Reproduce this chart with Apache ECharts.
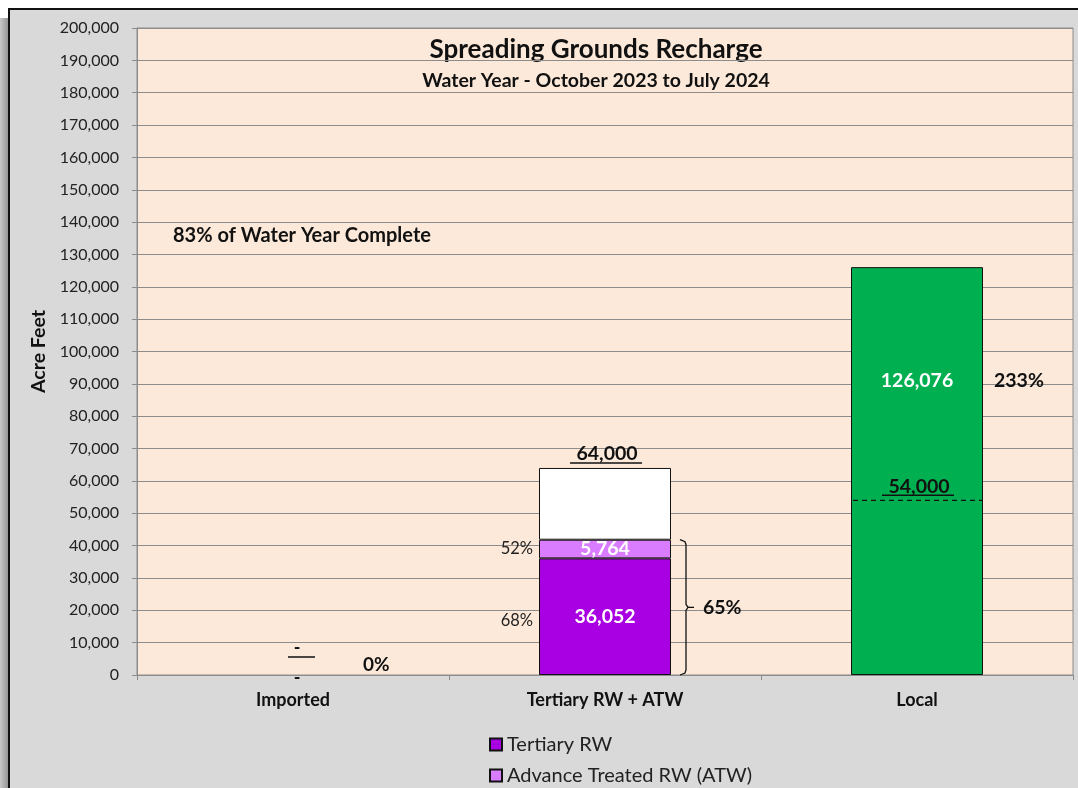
<!DOCTYPE html>
<html>
<head>
    <meta charset="utf-8">
    <title>Spreading Grounds Recharge</title>
    <script src="https://cdn.jsdelivr.net/npm/echarts@6/dist/echarts.min.js"></script>
    <style>
        body { margin: 0; background: #fff; overflow: hidden; }
        #shadow {
            position: absolute; left: 0; top: 18px; width: 10px; height: 800px;
            background: linear-gradient(to right, #c8c8c8, #8a8a8a);
        }
        #frame {
            position: absolute; left: 8px; top: 8px; width: 1100px; height: 820px;
            box-sizing: border-box; background: #d9d9d9; border: 2px solid #111;
        }
        #chart { position: absolute; left: 0; top: 0; width: 1078px; height: 788px; }
    </style>
</head>
<body>
    <div id="shadow"></div>
    <div id="frame"></div>
    <div id="chart"></div>
    <script>
        // data
        const categories = ['Imported', 'Tertiary RW + ATW', 'Local'];
        const tertiaryRW = [null, 36052, null];
        const advanceTreated = [null, 5764, null];
        const localWater = [null, null, 126076];
        const targets = [0, 64000, 54000];
        const tertiaryTargets = [null, 53000, null];
        const atwTargets = [null, 11000, null];
        const yearComplete = '83% of Water Year Complete';

        const FONT = 'Lato';
        const BAR_W = 132;

        function fmt(v) {
            return String(Math.round(v)).replace(/\B(?=(\d{3})+(?!\d))/g, ',');
        }

        const totals = categories.map((c, i) =>
            (tertiaryRW[i] || 0) + (advanceTreated[i] || 0) + (localWater[i] || 0));
        // white part of the bar up to the target
        const remaining = categories.map((c, i) =>
            (advanceTreated[i] && targets[i] > totals[i]) ? targets[i] - totals[i] : null);

        const annoData = categories.map((c, i) => [
            i, totals[i], targets[i],
            tertiaryRW[i] || 0, tertiaryTargets[i] || 0,
            advanceTreated[i] || 0, atwTargets[i] || 0
        ]);

        function renderNotes(params, api) {
            const i = api.value(0);
            const total = api.value(1);
            const target = api.value(2);
            const tert = api.value(3), tertT = api.value(4);
            const atw = api.value(5), atwT = api.value(6);
            const cx = api.coord([i, 0])[0];
            const y0 = api.coord([i, 0])[1];
            const yTop = api.coord([i, total])[1];
            const yGoal = api.coord([i, target])[1];
            const half = BAR_W / 2;
            const kids = [];
            const bold = (size) => 'bold ' + size + 'px ' + FONT;

            // target label, underlined
            if (target) {
                kids.push({ type: 'text', style: { x: cx + 2, y: yGoal - 14, text: fmt(target), font: bold(19.5), fill: '#111', align: 'center', verticalAlign: 'middle' } });
                kids.push({ type: 'line', shape: { x1: cx - 35, y1: yGoal - 5, x2: cx + 37, y2: yGoal - 5 }, style: { stroke: '#111', lineWidth: 1.5 } });
            } else {
                kids.push({ type: 'text', style: { x: cx + 4, y: yGoal - 27, text: '-', font: bold(18), fill: '#111', align: 'center', verticalAlign: 'middle' } });
                kids.push({ type: 'line', shape: { x1: cx - 5, y1: yGoal - 18, x2: cx + 22, y2: yGoal - 18 }, style: { stroke: '#111', lineWidth: 1.5 } });
            }

            const pct = target ? Math.round(total / target * 100) + '%' : '0%';
            if (total === 0) {
                kids.push({ type: 'text', style: { x: cx + 4, y: y0 + 3, text: '-', font: bold(18), fill: '#111', align: 'center', verticalAlign: 'middle' } });
                kids.push({ type: 'text', style: { x: cx + half + 4, y: y0 - 10, text: pct, font: bold(19), fill: '#111', align: 'left', verticalAlign: 'middle' } });
            } else if (total > target) {
                kids.push({ type: 'line', shape: { x1: cx - half + 2, y1: yGoal, x2: cx + half - 1, y2: yGoal }, style: { stroke: '#111', lineWidth: 1.2, lineDash: [5, 4] } });
                const ym = (yGoal + yTop) / 2 - 3;
                kids.push({ type: 'text', style: { x: cx, y: ym, text: fmt(total), font: bold(19.5), fill: '#fff', align: 'center', verticalAlign: 'middle' } });
                kids.push({ type: 'text', style: { x: cx + half + 11, y: ym, text: pct, font: bold(19.5), fill: '#111', align: 'left', verticalAlign: 'middle' } });
            } else {
                // bracket over the stacked part
                const bx = cx + half + 9;
                const ym = (y0 + yTop) / 2;
                kids.push({ type: 'polyline', shape: { points: [[bx, yTop], [bx + 5, yTop + 2], [bx + 6, yTop + 5], [bx + 6, ym - 3], [bx + 8, ym], [bx + 6, ym + 3], [bx + 6, y0 - 5], [bx + 5, y0 - 2], [bx, y0]] }, style: { stroke: '#111', fill: null, lineWidth: 1.3 } });
                kids.push({ type: 'line', shape: { x1: bx + 8, y1: ym, x2: bx + 14, y2: ym }, style: { stroke: '#111', lineWidth: 1.3 } });
                kids.push({ type: 'text', style: { x: cx + half + 32, y: ym, text: pct, font: bold(19.5), fill: '#111', align: 'left', verticalAlign: 'middle' } });
                // component percentages
                if (tertT) {
                    const yc = (y0 + api.coord([i, tert])[1]) / 2;
                    kids.push({ type: 'text', style: { x: cx - half - 6, y: yc + 4, text: Math.round(tert / tertT * 100) + '%', font: '16.5px ' + FONT, fill: '#222', align: 'right', verticalAlign: 'middle' } });
                }
                if (atwT) {
                    const yc = (api.coord([i, tert])[1] + api.coord([i, tert + atw])[1]) / 2;
                    kids.push({ type: 'text', style: { x: cx - half - 6, y: yc, text: Math.round(atw / atwT * 100) + '%', font: '16.5px ' + FONT, fill: '#222', align: 'right', verticalAlign: 'middle' } });
                }
            }
            return { type: 'group', children: kids };
        }

        const chart = echarts.init(document.getElementById('chart'));
        const valueLabel = {
            show: true, position: 'inside', color: '#fff', fontFamily: FONT, fontWeight: 'bold', fontSize: 19.5,
            formatter: p => p.value ? fmt(p.value) : ''
        };

        chart.setOption({
            animation: false,
            textStyle: { fontFamily: FONT },
            grid: {
                left: 137, top: 28, right: 5, bottom: 113,
                show: true, backgroundColor: '#fde9d9', borderColor: '#8c8c8c', borderWidth: 1
            },
            graphic: [
                { type: 'text', x: 596, y: 50, style: { text: 'Spreading Grounds Recharge', font: 'bold 26px ' + FONT, fill: '#111', align: 'center', verticalAlign: 'middle' } },
                { type: 'text', x: 596, y: 81, style: { text: 'Water Year - October 2023 to July 2024', font: 'bold 19.5px ' + FONT, fill: '#111', align: 'center', verticalAlign: 'middle' } },
                { type: 'text', x: 173, y: 236, style: { text: yearComplete, font: 'bold 20px ' + FONT, fill: '#111', verticalAlign: 'middle' } }
            ],
            legend: {
                data: ['Tertiary RW', 'Advance Treated RW (ATW)'],
                orient: 'vertical', left: 489, top: 734, padding: 0,
                icon: 'rect', itemWidth: 12, itemHeight: 12, itemGap: 10,
                textStyle: { fontFamily: FONT, fontSize: 20, color: '#222', lineHeight: 21 }
            },
            xAxis: {
                type: 'category', data: categories,
                axisLine: { lineStyle: { color: '#8c8c8c' } },
                axisTick: { show: true, interval: 0, length: 5, lineStyle: { color: '#8c8c8c' } },
                axisLabel: { color: '#111', fontWeight: 'bold', fontSize: 18, margin: 16 }
            },
            yAxis: {
                type: 'value', min: 0, max: 200000, interval: 10000,
                name: 'Acre Feet', nameLocation: 'middle', nameGap: 85, nameRotate: 90,
                nameTextStyle: { color: '#111', fontWeight: 'bold', fontSize: 19.5 },
                axisLine: { show: true, lineStyle: { color: '#8c8c8c' } },
                axisTick: { show: true, length: 5, lineStyle: { color: '#8c8c8c' } },
                axisLabel: { color: '#222', fontSize: 16, margin: 18, formatter: v => fmt(v) },
                splitLine: { lineStyle: { color: '#8c8c8c', width: 1 } }
            },
            series: [
                {
                    name: 'Tertiary RW', type: 'bar', stack: 'a', barWidth: BAR_W, data: tertiaryRW,
                    itemStyle: { color: '#a800e2', borderColor: '#111', borderWidth: 1 }, label: valueLabel
                },
                {
                    name: 'Advance Treated RW (ATW)', type: 'bar', stack: 'a', barWidth: BAR_W, data: advanceTreated,
                    itemStyle: { color: '#d97cff', borderColor: '#111', borderWidth: 1 }, label: valueLabel
                },
                {
                    name: 'Remaining', type: 'bar', stack: 'a', barWidth: BAR_W, data: remaining,
                    itemStyle: { color: '#ffffff', borderColor: '#111', borderWidth: 1 }
                },
                {
                    name: 'Local', type: 'bar', stack: 'a', barWidth: BAR_W, data: localWater,
                    itemStyle: { color: '#00b050', borderColor: '#111', borderWidth: 1 }
                },
                {
                    name: 'notes', type: 'custom', data: annoData, z: 10,
                    encode: { x: 0, y: 1 }, renderItem: renderNotes, silent: true
                }
            ]
        });
    </script>
</body>
</html>
